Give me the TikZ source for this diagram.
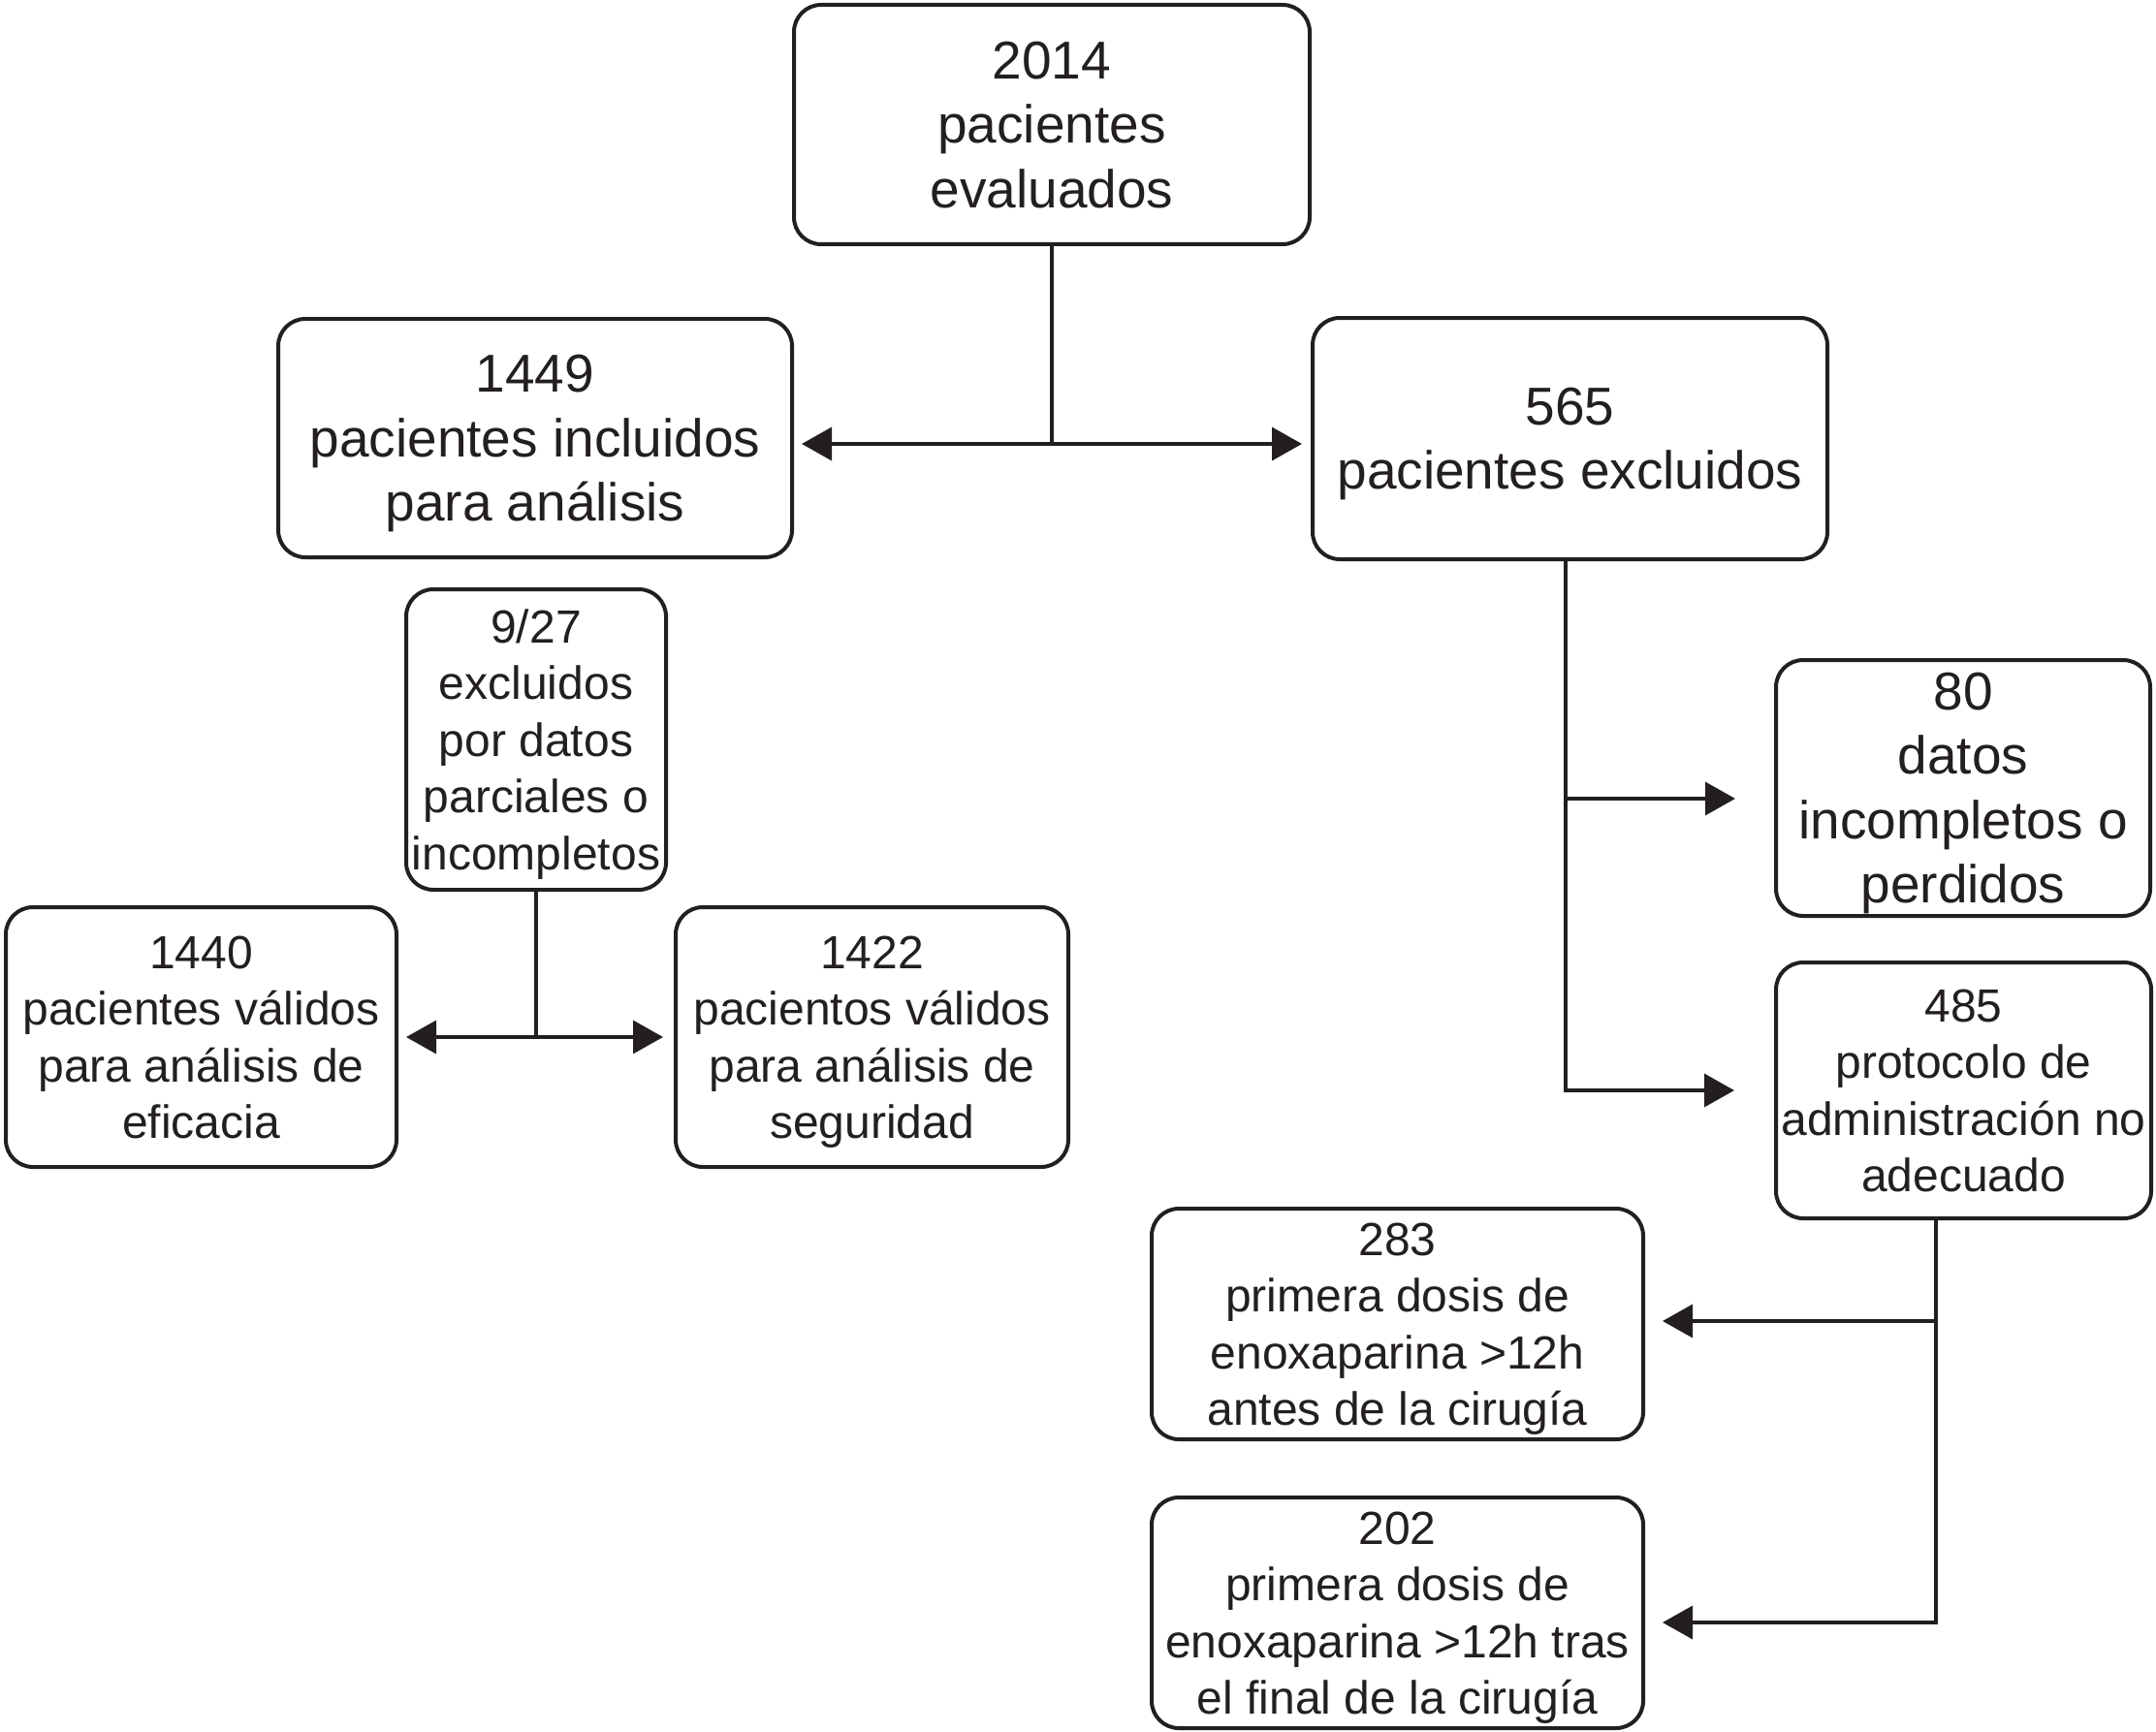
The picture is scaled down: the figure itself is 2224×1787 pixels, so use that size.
\documentclass[tikz,border=0pt]{standalone}
\usepackage{fontspec}
\setmainfont{Liberation Sans}
\usetikzlibrary{arrows.meta}
\definecolor{ink}{RGB}{35,31,32}
\begin{document}
\begin{tikzpicture}[x=1pt,y=-1pt,
  box/.style={draw=ink,line width=4pt,rounded corners=28pt,inner sep=0pt,align=center,text=ink,text depth=0pt},
  big/.style={box,font=\fontsize{55}{66.5}\selectfont},
  small/.style={box,font=\fontsize{48}{58.5}\selectfont},
  conn/.style={draw=ink,line width=3.5pt},
  arr/.style={conn,-{Triangle[length=31pt,width=34pt]}}]
\useasboundingbox (0,0) rectangle (2224,1787);
\node[big,minimum width=532pt,minimum height=247pt] (top) at (1085,128.5) {2014\\pacientes\\evaluados};
\node[big,minimum width=530pt,minimum height=246pt] (b1449) at (552,452) {1449\\pacientes incluidos\\para análisis};
\node[big,minimum width=531pt,minimum height=249pt] (b565) at (1619.5,452.5) {565\\pacientes excluidos};
\node[small,minimum width=268pt,minimum height=310pt] (b927) at (553,763) {9/27\\excluidos\\por datos\\parciales o\\incompletos};
\node[small,minimum width=403pt,minimum height=268pt] (b1440) at (207.5,1070) {1440\\pacientes válidos\\para análisis de\\eficacia};
\node[small,minimum width=405pt,minimum height=268pt] (b1422) at (899.5,1070) {1422\\pacientos válidos\\para análisis de\\seguridad};
\node[big,minimum width=386pt,minimum height=264pt] (b80) at (2025,813) {80\\datos\\incompletos o\\perdidos};
\node[small,minimum width=387pt,minimum height=264pt] (b485) at (2025.5,1125) {485\\protocolo de\\administración no\\adecuado};
\node[small,minimum width=507pt,minimum height=238pt] (b283) at (1441.5,1366) {283\\primera dosis de\\enoxaparina >12h\\antes de la cirugía};
\node[small,minimum width=507pt,minimum height=238pt] (b202) at (1441.5,1664) {202\\primera dosis de\\enoxaparina >12h tras\\el final de la cirugía};
% top split
\coordinate (j1) at (1085,458);
\draw[conn] (top.south) -- (j1);
\draw[arr] (j1) -- ([xshift=8pt]b1449.east |- j1);
\draw[arr] (j1) -- ([xshift=-9pt]b565.west |- j1);
% 9/27 split
\coordinate (j2) at (553,1070);
\draw[conn] (b927.south) -- (j2);
\draw[arr] (j2) -- ([xshift=8pt]b1440.east |- j2);
\draw[arr] (j2) -- ([xshift=-11pt]b1422.west |- j2);
% 565 branches
\coordinate (j3) at (1615,1125);
\coordinate (j3a) at (1615,824);
\draw[arr] (b565.south -| j3) -- (j3) -- ([xshift=-41pt]b485.west |- j3);
\draw[arr] (j3a) -- ([xshift=-40pt]b80.west |- j3a);
% 485 branches
\coordinate (j4) at (1997,1674);
\coordinate (j4a) at (1997,1363);
\draw[arr] (b485.south -| j4) -- (j4) -- ([xshift=18pt]b202.east |- j4);
\draw[arr] (j4a) -- ([xshift=18pt]b283.east |- j4a);
\end{tikzpicture}
\end{document}
